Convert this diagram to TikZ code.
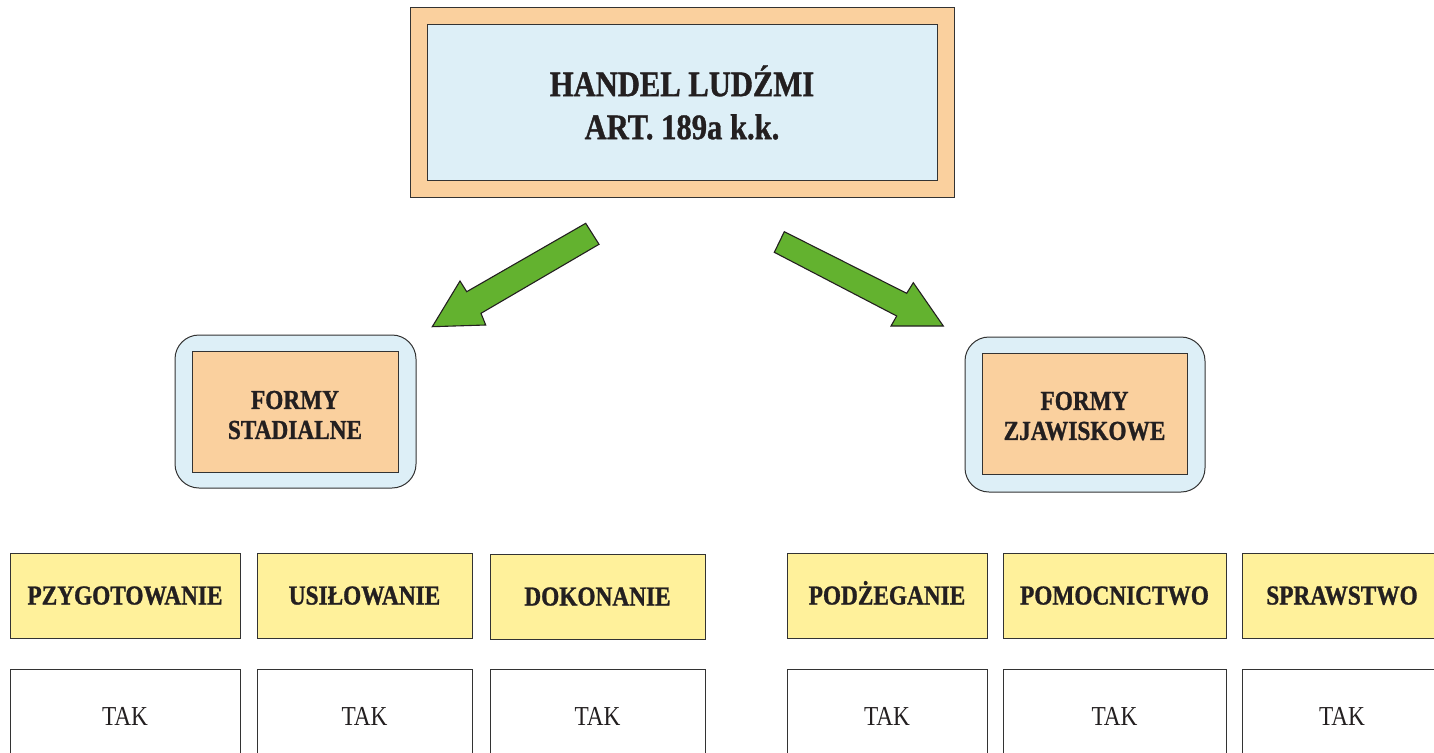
\documentclass[tikz,border=0pt]{standalone}
\usepackage{fontspec}
\setmainfont{Liberation Serif}[FakeStretch=0.85, BoldFeatures={FakeBold=1}]
\definecolor{peach}{HTML}{FAD09E}
\definecolor{lblue}{HTML}{DDEFF7}
\definecolor{yel}{HTML}{FFF19B}
\definecolor{grn}{HTML}{63B22F}
\definecolor{ink}{HTML}{231F20}
\definecolor{edge}{HTML}{333333}
\tikzset{
  box/.style={draw=edge, line width=1pt, inner sep=0pt, outer sep=0pt, anchor=north west, text=ink, align=center},
  yelbox/.style={box, fill=yel, minimum height=85pt, text height=18pt, text depth=0pt, font=\fontsize{27.4}{30}\selectfont\bfseries},
  takbox/.style={box, fill=white, minimum height=91pt, text height=18pt, text depth=0pt, font=\fontsize{27.4}{30}\selectfont},
  midout/.style={box, fill=lblue, rounded corners=24pt},
  midin/.style={box, fill=peach},
  midtxt/.style={inner sep=0pt, outer sep=0pt, anchor=center, align=center, text=ink, font=\fontsize{27.4}{30}\selectfont\bfseries},
  bigarrow/.style={draw=ink, line width=1.1pt, fill=grn, line join=miter}
}
\begin{document}
\begin{tikzpicture}[x=1pt, y={(0pt,-1pt)}]
\useasboundingbox (0,0) rectangle (1434,752);
\clip (0,0) rectangle (1434,752);
% top box
\node[box, fill=peach, minimum width=544pt, minimum height=189pt] (topout) at (410,8) {};
\node[box, fill=lblue, minimum width=510pt, minimum height=155pt,
      font=\fontsize{36}{43}\selectfont\bfseries] (topin) at (427,25) {HANDEL LUDŹMI\\ART. 189a k.k.};
% middle boxes
\node[midout, minimum width=241pt, minimum height=153pt] (lout) at (175,335) {};
\node[midin, minimum width=206pt, minimum height=121pt] (lin) at (192,351) {};
\node[midtxt] (ltxt) at (295,415) {FORMY\\STADIALNE};
\node[midout, minimum width=240pt, minimum height=155pt] (rout) at (965,337) {};
\node[midin, minimum width=205pt, minimum height=121pt] (rin) at (982,353) {};
\node[midtxt] (rtxt) at (1084.5,416) {FORMY\\ZJAWISKOWE};
% arrows
\draw[bigarrow] (585.7,223.3) coordinate (la1) -- (599,244.3) -- (481,313.3) -- (485.7,325) -- (432.3,326.7) coordinate (latip) -- (460,281) -- (466.7,291.7) -- cycle;
\draw[bigarrow] (784.3,231.7) coordinate (ra1) -- (906.7,293.3) -- (913.3,282.7) -- (943.3,326) coordinate (ratip) -- (891,326) -- (896.7,316) -- (774.3,252.3) -- cycle;
% yellow row
\node[yelbox, minimum width=230pt] (y1) at (10,553) {PZYGOTOWANIE};
\node[yelbox, minimum width=215pt] (y2) at (257,553) {USIŁOWANIE};
\node[yelbox, minimum width=215pt] (y3) at (490,554) {DOKONANIE};
\node[yelbox, minimum width=200pt] (y4) at (787,553) {PODŻEGANIE};
\node[yelbox, minimum width=223pt] (y5) at (1003,553) {POMOCNICTWO};
\node[yelbox, minimum width=200pt] (y6) at (1242,553) {SPRAWSTWO};
% white row
\node[takbox, minimum width=230pt] (t1) at (10,669) {\raisebox{-1.5pt}{TAK}};
\node[takbox, minimum width=215pt] (t2) at (257,669) {\raisebox{-1.5pt}{TAK}};
\node[takbox, minimum width=215pt] (t3) at (490,669) {\raisebox{-1.5pt}{TAK}};
\node[takbox, minimum width=200pt] (t4) at (787,669) {\raisebox{-1.5pt}{TAK}};
\node[takbox, minimum width=223pt] (t5) at (1003,669) {\raisebox{-1.5pt}{TAK}};
\node[takbox, minimum width=200pt] (t6) at (1242,669) {\raisebox{-1.5pt}{TAK}};
\end{tikzpicture}
\end{document}
